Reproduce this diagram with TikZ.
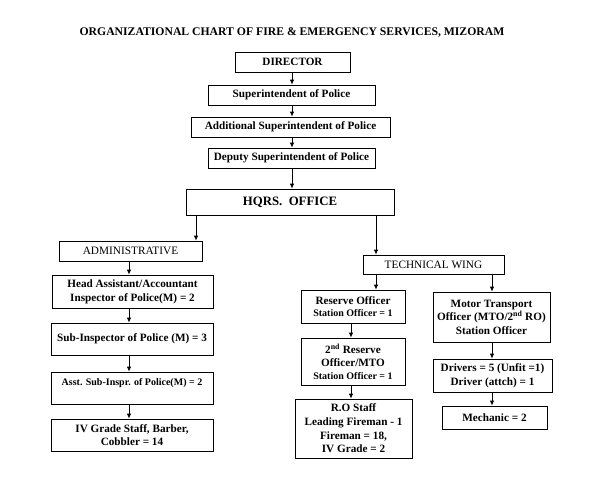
\documentclass[tikz,border=0pt]{standalone}
\usepackage{fontspec}
\setmainfont{Liberation Serif}
\usetikzlibrary{arrows.meta}
\newcommand{\smalltxt}{\fontsize{10}{11}\selectfont}
\begin{document}
\begin{tikzpicture}[x=1pt,y=-1pt,
  box/.style={draw, line width=0.8pt, inner sep=0pt, align=center, font=\bfseries\fontsize{11.2}{13.6}\selectfont},
  arr/.style={line width=0.8pt, -{Latex[length=5pt,width=4.5pt]}},
  hdr/.style={font=\fontsize{11.3}{13}\selectfont}]
\useasboundingbox (0,0) rectangle (612,491);
\node[font=\bfseries\fontsize{11.7}{13}\selectfont] (title) at (292,33) {ORGANIZATIONAL CHART OF FIRE \& EMERGENCY SERVICES, MIZORAM};
\node[box, minimum width=115pt, minimum height=20pt] (dir) at (292.5,62) {DIRECTOR};
\node[box, minimum width=167pt, minimum height=20pt] (sp) at (291.5,95) {Superintendent of Police};
\node[box, minimum width=199pt, minimum height=20pt] (asp) at (290.5,127) {Additional Superintendent of Police};
\node[box, minimum width=167pt, minimum height=20pt] (dsp) at (291.5,158) {Deputy Superintendent of Police};
\node[box, minimum width=208pt, minimum height=26pt, font=\bfseries\fontsize{12.8}{14}\selectfont] (hq) at (290,202) {HQRS.\ \ OFFICE};
\node[box, minimum width=143pt, minimum height=20pt, hdr] (adm) at (130.5,251) {ADMINISTRATIVE};
\node[box, minimum width=161pt, minimum height=33pt] (ha) at (132.5,291.5) {Head Assistant/Accountant\\Inspector of Police(M) = 2};
\node[box, minimum width=162pt, minimum height=32pt] (si) at (132,339) {Sub-Inspector of Police (M) = 3};
\node[box, minimum width=162pt, minimum height=32pt, font=\bfseries\fontsize{10}{13}\selectfont] (asi) at (132,388) {Asst. Sub-Inspr. of Police(M) = 2\\\mbox{}};
\node[box, minimum width=162pt, minimum height=32pt] (iv) at (132,435) {IV Grade Staff, Barber,\\Cobbler = 14};
\node[box, minimum width=141pt, minimum height=19pt, hdr] (tw) at (433.5,264.5) {TECHNICAL WING};
\node[box, minimum width=104pt, minimum height=33pt] (ro) at (353,306.5) {Reserve Officer\\[-1.5pt]{\smalltxt Station Officer = 1}};
\node[box, minimum width=117pt, minimum height=50pt] (mto) at (491.5,317) {Motor Transport\\Officer (MTO/2\textsuperscript{nd} RO)\\Station Officer};
\node[box, minimum width=104pt, minimum height=47pt] (ro2) at (353,361.5) {2\textsuperscript{nd} Reserve\\Officer/MTO\\[-1.5pt]{\smalltxt Station Officer = 1}};
\node[box, minimum width=117pt, minimum height=59pt] (ros) at (353.5,428.5) {R.O Staff\\Leading Fireman - 1\\Fireman = 18,\\IV Grade = 2};
\node[box, minimum width=119pt, minimum height=33pt] (drv) at (492.5,375.5) {Drivers = 5 (Unfit =1)\\Driver (attch) = 1};
\node[box, minimum width=105pt, minimum height=23pt] (mec) at (494.5,417.5) {Mechanic = 2};
% connectors
\draw[arr] (292,0 |- dir.south) -- (292,0 |- sp.north);
\draw[arr] (292,0 |- sp.south) -- (292,0 |- asp.north);
\draw[arr] (292,0 |- asp.south) -- (292,0 |- dsp.north);
\draw[arr] (292,0 |- dsp.south) -- (292,0 |- hq.north);
\draw[arr] (196,0 |- hq.south) -- (196,0 |- adm.north);
\draw[arr] (376,0 |- hq.south) -- (376,0 |- tw.north);
\draw[arr] (129,0 |- adm.south) -- (129,0 |- ha.north);
\draw[arr] (129,0 |- ha.south) -- (129,0 |- si.north);
\draw[arr] (129,0 |- si.south) -- (129,0 |- asi.north);
\draw[arr] (129,0 |- asi.south) -- (129,0 |- iv.north);
\draw[arr] (376,0 |- tw.south) -- (376,0 |- ro.north);
\draw[arr] (492,0 |- tw.south) -- (492,0 |- mto.north);
\draw[arr] (351,0 |- ro.south) -- (351,0 |- ro2.north);
\draw[arr] (351,0 |- ro2.south) -- (351,0 |- ros.north);
\draw[arr] (492,0 |- mto.south) -- (492,0 |- drv.north);
\draw[arr] (492,0 |- drv.south) -- (492,0 |- mec.north);
\end{tikzpicture}
\end{document}
